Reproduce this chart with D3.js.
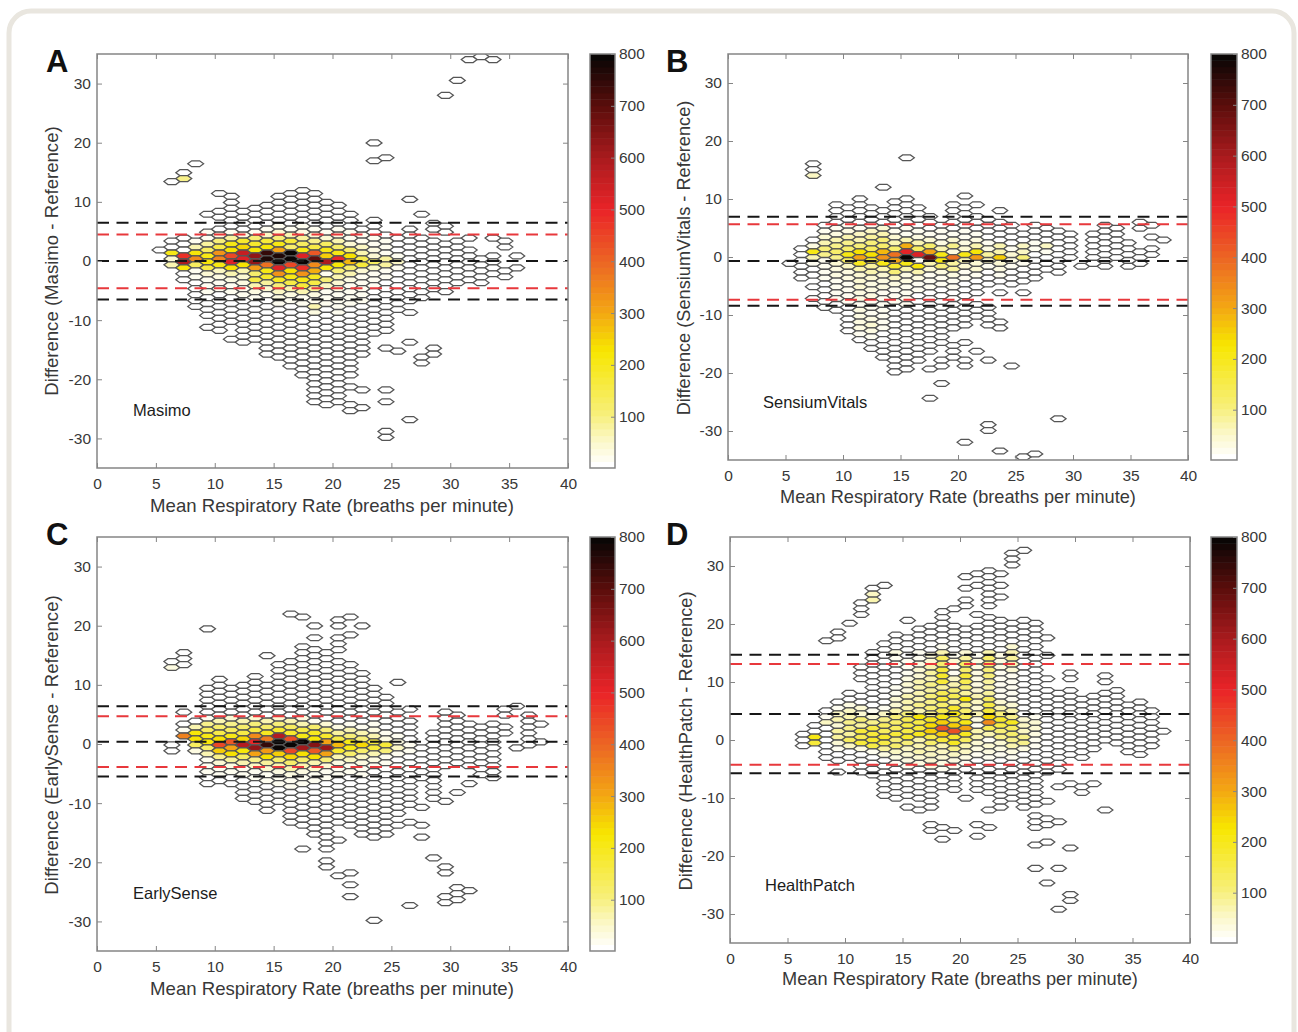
<!DOCTYPE html>
<html lang="en">
<head>
<meta charset="UTF-8">
<script src="https://d3js.org/d3.v7.min.js"></script>
<title>Hexbin agreement plots</title>
<style>
  html, body { margin: 0; padding: 0; background: #fff; overflow: hidden; }
  text { font-family: "Liberation Sans", Arial, sans-serif; }
</style>
</head>
<body>
<div id="draw_here"></div>
<script>
// each bin run is [column, top y of the run, counts going downwards one row at a time]
const masimoBins = [
  [5,2,[5]],
  [6,13.5,[5]],[6,3.5,[5,5,200,40,70]],
  [7,15,[5,90]],[7,4,[5,5,5,480,600,220,5,5]],
  [8,16.5,[5]],[8,3.5,[15,60,220,340,130,20,10,5,5,5,5,5]],
  [9,8,[5]],[9,5,[10,15,80,130,200,220,150,40,20,15,10,5,5,5,5]],[9,-11,[5]],
  [10,11.5,[5]],[10,8.5,[5,5]],[10,5.5,[5,30,100,150,330,350,210,50,30,15,15,5,5,5,5,5,5,5]],
  [11,11,[5,5,5,5,5,5,15,80,200,230,450,520,230,60,30,20,15,5,5,5,5,5]],[11,-13,[5]],
  [12,8.5,[5,5,5,5,30,180,240,560,520,230,70,40,30,20,10,5,5,5,5,5,5,5,5]],
  [13,9,[5,5,5,5,20,100,180,220,640,640,320,120,150,60,30,15,5,5,5,5,5,5,5]],
  [14,9.5,[5,5,5,5,15,50,170,220,750,780,380,210,180,80,40,20,5,5,5,5,5,5,5,5,5,5]],
  [15,11,[5,5,5,5,5,10,40,100,200,300,780,800,520,330,190,100,50,25,10,5,5,5,5,5,5,5,5,5]],
  [16,11.5,[5,5,5,5,5,5,20,60,170,120,800,800,450,230,200,150,60,30,15,5,5,5,5,5,5,5,5,5,5,5]],
  [17,12,[5,5,5,5,5,5,10,30,80,130,200,520,800,480,330,210,170,60,20,10,5,5,5,5,5,5,5,5,5,5,5,5]],
  [18,11.5,[5,5,5,5,5,5,20,40,90,150,420,700,340,290,190,150,80,30,10,60,30,5,5,5,5,5,5,5,5,5,5,5,5,5,5,5]],
  [19,10,[5,5,5,5,5,15,40,130,200,250,600,220,10,100,50,20,10,20,5,5,5,5,5,5,5,5,5,5,5,5,5,5,5,5,5]],
  [20,9.5,[5,5,5,5,10,30,60,120,200,500,220,100,60,40,30,15,20,15,10,5,5,5,5,5,5,5,5,5,5,5,5,5,5,5]],
  [21,8,[5,5,5,10,20,40,120,230,280,120,60,30,20,20,15,10,5,5,5,5,5,5,5,5,5,5,5,5]],[21,-21,[5]],[21,-24,[5,5]],
  [22,5.5,[5,15,20,50,60,140,170,40,20,15,15,10,10,5,5,5,5,5,5,5,5,5]],[22,-21.5,[5]],[22,-24.5,[5]],
  [23,20,[5]],[23,17,[5]],[23,7,[5,5,5,10,15,25,40,130,50,15,10,10,5,5,5,5,5,5,5,5]],
  [24,17.5,[5]],[24,4.5,[5,10,20,20,80,80,20,10,5,5,5,5,5,5,5,5,5]],[24,-14.5,[5]],[24,-21.5,[5]],[24,-23.5,[5]],[24,-28.5,[5,5]],
  [25,4,[5,5,5,15,50,15,5,5,5,5,5,5,5]],[25,-15,[5]],
  [26,10.5,[5]],[26,5.5,[5,5,5,5,5,5,5,5,5,5,5,5,5]],[26,-8.5,[5]],[26,-13.5,[5]],[26,-26.5,[5]],
  [27,8,[5]],[27,4,[5,5,5,5,5,5,5,5,5,5,5]],[27,-16,[5,5]],
  [28,6.5,[5,5]],[28,3.5,[5,5,5,5,5,5,5,5,5]],[28,-14.5,[5,5]],
  [29,28,[5]],[29,6,[5,5]],[29,3,[5,5,5,5,5,5,5,5,5]],
  [30,30.5,[5]],[30,3.5,[5,5,5,5,5,5,5,5]],
  [31,34,[5]],[31,4,[5]],[31,2,[5,5,5,5,5,5]],
  [32,34.5,[5]],[32,0.5,[5,5,5,5,5]],
  [33,34,[5]],[33,4,[5]],[33,1,[5,5,5,5]],
  [34,3.5,[5,5]],[34,-1.5,[5,5]],
  [35,1,[5]],[35,-1,[5]]
];
const sensiumBins = [
  [5,-1,[5]],
  [6,1.5,[5,5,5,5,5,5]],
  [7,16,[5,5,50]],[7,3,[5,30,210,70,20,5,5]],[7,-5,[5]],[7,-7,[5]],
  [8,5.5,[5,15,40,70,100,90,20,20,15,10,5,5,5,5,5]],
  [9,9,[5,5,5,5,10,30,60,90,110,90,40,30,25,20,15,10,10,5,5]],
  [10,8.5,[5,5,5,10,30,60,90,110,210,130,50,30,25,20,15,10,10,5,5,5,5,5]],
  [11,10,[5,5,5,5,5,20,50,70,100,230,300,190,60,40,40,40,30,25,20,25,30,30,25,10,5]],
  [12,8.5,[5,5,5,15,50,80,100,130,230,180,80,70,40,30,25,25,20,20,20,30,35,25,10,5,5]],
  [13,12,[5]],[13,8,[5,5,5,40,60,100,120,280,330,200,60,40,30,30,20,20,20,15,15,15,15,5,5,5,5,5]],
  [14,9.5,[5,5,5,5,5,20,40,60,110,380,300,180,100,50,30,20,15,15,5,5,5,5,5,5,5,5,5,5,5,5]],
  [15,17,[5]],[15,10,[5,5,5,5,5,10,15,60,290,510,800,200,60,30,30,15,15,10,10,5,5,5,5,5,5,5,5,5,5,5]],
  [16,8.5,[5,5,5,5,10,30,60,130,520,10,220,60,30,20,10,5,5,5,5,5,5,5,5,5,5,5,5]],
  [17,7,[5,5,5,15,40,120,310,680,60,40,20,15,10,5,5,5,5,5,5,5,5,5,5,5]],[17,-19,[5]],[17,-24,[5]],
  [18,5.5,[5,10,20,30,60,200,220,100,30,15,10,5,5,5,5,5,5,5,5,5,5]],[18,-17.5,[5,5]],[18,-21.5,[5]],
  [19,9,[5,5,5,5,5,15,40,90,30,380,80,80,30,15,10,5,5,5,5,5,5,5]],[19,-15,[5,5,5]],
  [20,10.5,[5]],[20,8.5,[5,5,5,5,15,20,30,40,200,60,40,20,10,5,5,5,5,5,5,5,5]],[20,-14.5,[5]],[20,-17.5,[5,5]],[20,-31.5,[5]],
  [21,9,[5]],[21,7,[5,5,5,10,30,60,220,320,40,40,10,5,5,5]],[21,-8,[5,5,5]],[21,-16,[5]],
  [22,6.5,[5,5,5,5,15,30,80,50,20,5,5,5]],[22,-8.5,[5,5,5,5]],[22,-17.5,[5]],[22,-28.5,[5,5]],
  [23,8,[5]],[23,6,[5,5,5,5,60,60,250,40,30,10,5]],[23,-6,[5]],[23,-11,[5,5]],[23,-33,[5]],
  [24,5.5,[5,5,5,5,15,40,30,10,5,5,5]],[24,-18.5,[5]],
  [25,4,[5,5,50,50,100,20,5,5,5]],[25,-6,[5]],[25,-34,[5]],
  [26,5.5,[5,5,5,20,10,5,5,5,5,5]],[26,-33.5,[5]],
  [27,5,[5,5,5,50,10,5,5,5]],
  [28,4.5,[5,5,5,5,5,5,5,5]],[28,-27.5,[5]],
  [29,4,[5,5,5,5,5]],
  [30,-1.5,[5]],
  [31,4,[5,5,5,5,5,5]],
  [32,5.5,[5,5,5,5,5,5,5,5]],
  [33,5,[5,5,5,5,5,5]],
  [34,2.5,[5,5,5,5,5]],
  [35,6,[5,5]],[35,1,[5,5,5]],
  [36,5.5,[5]],[36,3.5,[5]],[36,1.5,[5,5]],
  [37,3,[5]]
];
const earlySenseBins = [
  [6,14,[5,30]],[6,0,[5,5]],
  [7,15.5,[5,5,5]],[7,5.5,[5]],[7,3.5,[5,10,350]],
  [8,4,[5,60,220,230,130,30]],
  [9,19.5,[5]],[9,9.5,[5,5,5,5,5,20,90,130,200,220,120,60,20,15,10,5,5]],
  [10,11,[5,5,5,5,5,5,5,70,110,150,230,450,250,90,40,20,10,5]],
  [11,9.5,[5,5,5,5,5,40,90,130,200,420,300,230,80,30,15,5,5]],
  [12,10,[5,5,5,5,5,5,60,110,150,240,580,220,130,60,20,10,5,5,5,5]],
  [13,11.5,[5,5,5,5,5,5,5,40,100,150,340,500,640,300,90,50,20,10,5,5,5,5]],
  [14,15,[5]],[14,10,[5,5,5,5,5,5,60,120,190,370,750,320,230,80,40,20,10,5,5,5,5,5]],
  [15,13.5,[5,5,5,5,5,5,5,5,5,40,100,180,580,800,800,250,120,60,30,15,10,5,5,5]],
  [16,22,[5]],[16,14,[5,5,5,5,5,5,5,5,5,5,60,130,180,430,800,440,240,110,60,30,15,10,5,5,5,5,5,5]],
  [17,21.5,[5]],[17,16.5,[5,5,5,5,5,5,5,5,5,5,5,5,30,70,150,200,800,610,230,120,60,30,15,10,5,5,5,5,5,5,5]],[17,-17.5,[5]],
  [18,20,[5]],[18,18,[5]],[18,16,[5,5,5,5,5,5,5,5,5,5,5,5,20,120,190,220,650,420,230,70,40,20,10,5,5,5,5,5,5,5,5,5]],
  [19,15.5,[5,5,5,5,5,5,5,5,5,5,5,5,40,100,180,300,620,300,100,40,20,10,5,5,5,5,5,5,5,5,5,5,5,5]],[19,-19.5,[5,5]],
  [20,21,[5,5]],[20,18,[5,5,5]],[20,14,[5,5,5,5,5,5,5,5,5,5,5,30,80,150,280,180,60,30,15,10,5,5,5,5,5,5,5,5]],[20,-16,[5]],[20,-22,[5]],
  [21,21.5,[5]],[21,18.5,[5]],[21,13.5,[5,5,5,5,5,5,5,5,5,5,20,60,100,200,210,120,50,20,10,5,5,5,5,5,5,5,5,5]],[21,-21.5,[5]],[21,-23.5,[5]],[21,-25.5,[5]],
  [22,20,[5]],[22,12,[5,5,5,5,5,5,5,5,5,20,60,100,240,120,50,30,15,10,5,5,5,5,5,5,5,5,5,5]],
  [23,9.5,[5,5,5,5,5,5,10,30,60,160,160,60,30,10,5,5,5,5,5,5,5,5,5,5,5,5]],[23,-29.5,[5]],
  [24,8,[5,5,5,5,5,5,15,30,170,100,20,10,5,5,5,5,5,5,5,5,5,5,5,5]],
  [25,10.5,[5]],[25,5.5,[5,5,5,5,15,30,50,20,5,5,5,5,5,5,5,5,5,5]],[25,-13.5,[5]],
  [26,6,[5]],[26,4,[5,5,5,5,15,20,5,5,5,5,5,5,5,5,5]],[26,-13,[5]],[26,-27,[5]],
  [27,-0.5,[5,5,5,5,5,5]],[27,-10.5,[5]],[27,-13.5,[5]],[27,-15.5,[5]],
  [28,2,[5,5,5,5,5,5,5,5,5,5,5,5]],[28,-19,[5]],
  [29,5.5,[5,5,5,5,5,5,5,5,5,5]],[29,-9.5,[5]],[29,-20.5,[5,5]],[29,-25.5,[5,5]],
  [30,5,[5,5,5,5,5,5,5,5,5]],[30,-8,[5]],[30,-24,[5,5,5]],
  [31,3.5,[5,5,5,5,5,5,5,5]],[31,-6.5,[5]],[31,-24.5,[5]],
  [32,3,[5,5,5,5,5,5,5,5,5]],
  [33,3.5,[5,5,5,5,5,5,5,5,5,5]],
  [34,6,[5,5]],[34,3,[5,5]],
  [35,6.5,[5]],[35,-0.5,[5]],
  [36,5,[5,5,5,5,5,5]],
  [37,3.5,[5]],[37,0.5,[5]]
];
const healthPatchBins = [
  [6,1,[5,5,5]],
  [7,2.5,[5,5,210,170]],
  [8,17,[5]],[8,5,[5,10,50,5,5,5,5,5,5]],
  [9,18.5,[5,5]],[9,6.5,[5,15,50,60,40,80,80,40,10,5,5]],[9,-5.5,[5]],
  [10,20,[5]],[10,8,[5,5,30,50,60,90,90,80,130,50,5,5]],
  [11,23.5,[5,5,5]],[11,12.5,[5,5,5]],[11,7.5,[5,5,40,40,100,80,170,140,170,25,5,5,5,5]],
  [12,26,[5,50,70]],[12,15,[5,5,5,5,5,5,5,5,5,5,10,40,90,150,170,180,150,20,5,5,5,5]],
  [13,26.5,[5]],[13,16.5,[5,5,5,5,5,5,5,5,5,5,5,20,50,90,130,130,180,150,80,25,5,5,5,5,5,5,5]],
  [14,18,[5,5,5,30,15,10,5,5,5,20,20,40,40,60,100,110,130,160,100,110,50,25,15,5,5,5,5]],[14,-10,[5]],
  [15,20.5,[5]],[15,17.5,[5,5,5,5,15,15,20,30,40,30,70,70,70,100,140,150,150,180,100,50,40,25,10,5,5,5,5,5]],[15,-11.5,[5]],
  [16,19,[5,5,5,5,20,20,30,40,40,60,70,70,70,90,70,220,150,170,190,70,70,60,40,30,5,5,5,5,5,5]],[16,-12,[5]],
  [17,19.5,[5,5,5,5,5,40,40,60,80,70,90,80,100,90,100,90,190,240,260,150,120,70,50,40,25,5,5,5,5,5,5]],[17,-11.5,[5]],[17,-14.5,[5,5]],
  [18,22,[5,5,5,5,5,5,20,60,130,110,170,180,160,80,140,170,120,140,200,250,430,250,170,70,50,40,25,15,5,5,5]],[18,-15,[5]],[18,-17,[5]],
  [19,22.5,[5]],[19,19.5,[5,5,5,5,5,20,40,20,10,50,60,100,140,80,180,200,160,250,430,180,190,90,50,25,10,5,5,5,5]],[19,-15.5,[5]],
  [20,28,[5]],[20,26,[5]],[20,24,[5,5]],[20,19,[5,5,5,5,40,80,130,120,170,140,100,80,220,90,120,140,200,300,190,130,70,50,25,10,5]],[20,-10,[5]],
  [21,28.5,[5]],[21,26.5,[5]],[21,21.5,[5]],[21,19.5,[5,5,5,5,5,20,30,25,30,30,30,40,60,50,40,70,25,10,70,60,40,25,10,5,5,5,5,5,5]],[21,-14.5,[5]],[21,-16.5,[5]],
  [22,29,[5,5,5,5,5,5,5]],[22,21,[5,5,5,5,5,5,60,110,120,100,100,80,70,80,130,150,170,240,340,140,70,10,40,25,10,5,5,5,5,5,5]],[22,-12,[5]],[22,-15,[5]],
  [23,28.5,[5]],[23,26.5,[5]],[23,24.5,[5]],[23,20.5,[5,5,5,5,5,5,30,30,30,20,20,15,15,20,40,70,100,180,150,100,90,40,25,10,5,5,5,5,5,5,5,5,5]],
  [24,32,[5,5,5]],[24,20,[5,5,5,5,40,70,80,70,40,20,15,10,10,10,40,60,90,190,130,110,90,60,25,10,5,5,5,5,5,5,5]],
  [25,32.5,[5]],[25,20.5,[5,5,5,5,5,5,5,5,5,5,5,5,5,5,5,5,5,40,50,50,90,90,25,5,5,5,5,5,5,5,5,5]],[25,-11.5,[5]],
  [26,20,[5,5,5,5,5,5,5,5,5,5,5,5,5,5,5,5,20,40,40,25,20,10,5,5,5,5,5,5,5,5,5,5]],[26,-13,[5,5,5]],[26,-18,[5]],[26,-22,[5]],
  [27,17.5,[5]],[27,14.5,[5]],[27,10.5,[5]],[27,8.5,[5,5,5,5,5,5,5,5,5,5,5,5,5,5,5]],[27,-10.5,[5]],[27,-13.5,[5,5]],[27,-17.5,[5]],[27,-24.5,[5]],
  [28,8,[5,5,5,5,5,5,5,5,5,5,5,5,5,5]],[28,-8,[5]],[28,-14,[5]],[28,-22,[5]],[28,-29,[5]],
  [29,11.5,[5,5]],[29,8.5,[5,5,5,5,5,5,5,5,5,5,5,5]],[29,-7.5,[5]],[29,-18.5,[5]],[29,-26.5,[5,5]],
  [30,7,[5,5,5,5,5,5,5,5,5,5,5]],[30,-8,[5,5]],
  [31,7.5,[5,5,5,5,5,5,5,5,5,5]],[31,-7.5,[5]],
  [32,11,[5,5]],[32,8,[5,5,5,5,5,5,5,5,5]],[32,-12,[5]],
  [33,8.5,[5,5,5,5,5,5,5,5,5,5]],
  [34,6,[5,5,5,5,5,5,5,5,5]],
  [35,6.5,[5,5,5,5,5,5,5,5,5,5]],
  [36,5,[5,5,5,5,5,5,5]],
  [37,1.5,[5]]
];

const masimoBlack = [6.45, 0, -6.5];
const masimoRed = [4.5, -4.6];
const sensiumBlack = [6.95, -0.7, -8.4];
const sensiumRed = [5.63, -7.35];
const earlySenseBlack = [6.4, 0.4, -5.5];
const earlySenseRed = [4.7, -3.9];
const healthPatchBlack = [14.7, 4.5, -5.75];
const healthPatchRed = [13.1, -4.25];

const xTicks = [0, 5, 10, 15, 20, 25, 30, 35, 40];
const yTicks = [-30, -20, -10, 0, 10, 20, 30];
const colorTicks = [100, 200, 300, 400, 500, 600, 700, 800];
const colorStops = [1, 50, 100, 225, 300, 400, 500, 600, 700, 800];
const colorValues = ["#ffffff", "#fbf7c6", "#f7ef7a", "#f7e600", "#f3a713", "#ec6524", "#ea2428", "#ab1b1e", "#5e0e0c", "#0a0605"];

const width = 1298, height = 1032;
const frameColor = "#858585", textColor = "#383838";

const color = d3.scaleLinear().domain(colorStops).range(colorValues);
const levels = 64;
const level = v => Math.round((v - 1) / 799 * (levels - 1));
const levelValue = l => 1 + l / (levels - 1) * 799;

const svg = d3.select("#draw_here").append("svg")
    .attr("width", width)
    .attr("height", height);

svg.append("rect")
    .attr("x", 9).attr("y", 11)
    .attr("width", 1285).attr("height", 1060)
    .attr("rx", 22)
    .attr("fill", "#fff")
    .attr("stroke", "#e9e6df")
    .attr("stroke-width", 5);

function styleAxis(g) {
    g.select(".domain").remove();
    g.selectAll("line").attr("stroke", frameColor);
    g.selectAll("text")
        .attr("fill", textColor)
        .attr("font-size", 15.5);
}

function drawPanel(p) {
    const x = d3.scaleLinear().domain([0, 40]).range([p.left, p.right]);
    const y = d3.scaleLinear().domain([-35, 35]).range([p.bottom, p.top]);

    const clipId = "clip" + p.letter;
    svg.append("clipPath").attr("id", clipId)
        .append("rect")
        .attr("x", p.left).attr("y", p.top)
        .attr("width", p.right - p.left).attr("height", p.bottom - p.top);

    // flatten the runs into single bins
    const bins = [];
    p.bins.forEach(([col, top, counts]) => {
        counts.forEach((c, i) => bins.push({col: col, row: top - i, count: c}));
    });

    const radius = p.xStep / 1.5;
    const line = d3.line();
    const hex = d => {
        const cx = 0.3 + d.col * p.xStep;
        const cy = d.row * p.yScale + p.yShift;
        const pts = [[radius, 0], [radius / 2, 0.5], [-radius / 2, 0.5], [-radius, 0], [-radius / 2, -0.5], [radius / 2, -0.5]];
        return line(pts.map(q => [x(cx + q[0]), y(cy + q[1])])) + "Z";
    };

    svg.append("g")
        .attr("clip-path", `url(#${clipId})`)
        .selectAll("path")
        .data(bins)
        .join("path")
        .attr("d", hex)
        .attr("fill", d => color(levelValue(level(d.count))))
        .attr("stroke", "#555")
        .attr("stroke-width", 1.25);

    const limitLine = (values, stroke) => {
        svg.append("g")
            .selectAll("line")
            .data(values)
            .join("line")
            .attr("x1", p.left).attr("x2", p.right)
            .attr("y1", d => y(d)).attr("y2", d => y(d))
            .attr("stroke", stroke)
            .attr("stroke-width", 2)
            .attr("stroke-dasharray", "12,7.5");
    };
    limitLine(p.red, "#e8383c");
    limitLine(p.black, "#161616");

    svg.append("g")
        .attr("transform", `translate(0,${p.bottom})`)
        .call(d3.axisBottom(x).tickValues(xTicks).tickSizeInner(-5).tickSizeOuter(0).tickPadding(10))
        .call(styleAxis);
    svg.append("g")
        .attr("transform", `translate(0,${p.top})`)
        .call(d3.axisTop(x).tickValues(xTicks).tickFormat("").tickSizeInner(-5).tickSizeOuter(0))
        .call(styleAxis);
    svg.append("g")
        .attr("transform", `translate(${p.left},0)`)
        .call(d3.axisLeft(y).tickValues(yTicks).tickFormat(d => String(d)).tickSizeInner(-5).tickSizeOuter(0).tickPadding(6))
        .call(styleAxis);
    svg.append("g")
        .attr("transform", `translate(${p.right},0)`)
        .call(d3.axisRight(y).tickValues(yTicks).tickFormat("").tickSizeInner(-5).tickSizeOuter(0))
        .call(styleAxis);

    svg.append("rect")
        .attr("x", p.left).attr("y", p.top)
        .attr("width", p.right - p.left).attr("height", p.bottom - p.top)
        .attr("fill", "none")
        .attr("stroke", frameColor)
        .attr("stroke-width", 1.5);

    // colorbar
    const c = d3.scaleLinear().domain([1, 800]).range([p.bottom, p.top]);
    svg.append("g")
        .selectAll("rect")
        .data(d3.range(levels))
        .join("rect")
        .attr("x", p.barLeft)
        .attr("width", p.barWidth)
        .attr("y", l => c(1 + (l + 1) / levels * 799))
        .attr("height", (p.bottom - p.top) / levels + 0.5)
        .attr("fill", l => color(levelValue(l)));
    svg.append("g")
        .attr("transform", `translate(${p.barLeft + p.barWidth},0)`)
        .call(d3.axisRight(c).tickValues(colorTicks).tickSizeInner(-4).tickSizeOuter(0).tickPadding(4))
        .call(styleAxis);
    svg.append("rect")
        .attr("x", p.barLeft).attr("y", p.top)
        .attr("width", p.barWidth).attr("height", p.bottom - p.top)
        .attr("fill", "none")
        .attr("stroke", frameColor)
        .attr("stroke-width", 1.5);

    // labels
    svg.append("text")
        .attr("x", p.letterX).attr("y", p.letterY)
        .attr("font-size", 31).attr("font-weight", "bold")
        .attr("fill", "#111")
        .text(p.letter);
    svg.append("text")
        .attr("x", p.nameX).attr("y", p.nameY)
        .attr("font-size", 16.5)
        .attr("fill", "#1c1c1c")
        .text(p.name);
    svg.append("text")
        .attr("x", p.xLabelX).attr("y", p.xLabelY)
        .attr("text-anchor", "middle")
        .attr("font-size", p.labelSize)
        .attr("fill", textColor)
        .text("Mean Respiratory Rate (breaths per minute)");
    svg.append("text")
        .attr("transform", `translate(${p.yLabelX},${p.yLabelY}) rotate(-90)`)
        .attr("text-anchor", "middle")
        .attr("font-size", p.labelSize)
        .attr("fill", textColor)
        .text(`Difference (${p.name} - Reference)`);
}

drawPanel({letter: "A", name: "Masimo", bins: masimoBins, black: masimoBlack, red: masimoRed, labelSize: 18.6,
    left: 97, right: 568, top: 54, bottom: 468, barLeft: 590, barWidth: 25, xStep: 1.01, yScale: 1.006, yShift: -0.15,
    letterX: 46, letterY: 72, nameX: 133, nameY: 416, xLabelX: 332, xLabelY: 512, yLabelX: 58, yLabelY: 261});
drawPanel({letter: "B", name: "SensiumVitals", bins: sensiumBins, black: sensiumBlack, red: sensiumRed, labelSize: 18.2,
    left: 728, right: 1188, top: 54, bottom: 460, barLeft: 1211, barWidth: 26, xStep: 1.015, yScale: 1.011, yShift: -0.09,
    letterX: 666, letterY: 72, nameX: 763, nameY: 408, xLabelX: 958, xLabelY: 503, yLabelX: 690, yLabelY: 258});
drawPanel({letter: "C", name: "EarlySense", bins: earlySenseBins, black: earlySenseBlack, red: earlySenseRed, labelSize: 18.6,
    left: 97, right: 568, top: 537, bottom: 951, barLeft: 590, barWidth: 25, xStep: 1.01, yScale: 1.006, yShift: -0.15,
    letterX: 46, letterY: 545, nameX: 133, nameY: 899, xLabelX: 332, xLabelY: 995, yLabelX: 58, yLabelY: 745});
drawPanel({letter: "D", name: "HealthPatch", bins: healthPatchBins, black: healthPatchBlack, red: healthPatchRed, labelSize: 18.2,
    left: 730, right: 1190, top: 537, bottom: 943, barLeft: 1211, barWidth: 26, xStep: 1.01, yScale: 1.006, yShift: 0,
    letterX: 666, letterY: 545, nameX: 765, nameY: 891, xLabelX: 960, xLabelY: 985, yLabelX: 692, yLabelY: 741});
</script>
</body>
</html>
